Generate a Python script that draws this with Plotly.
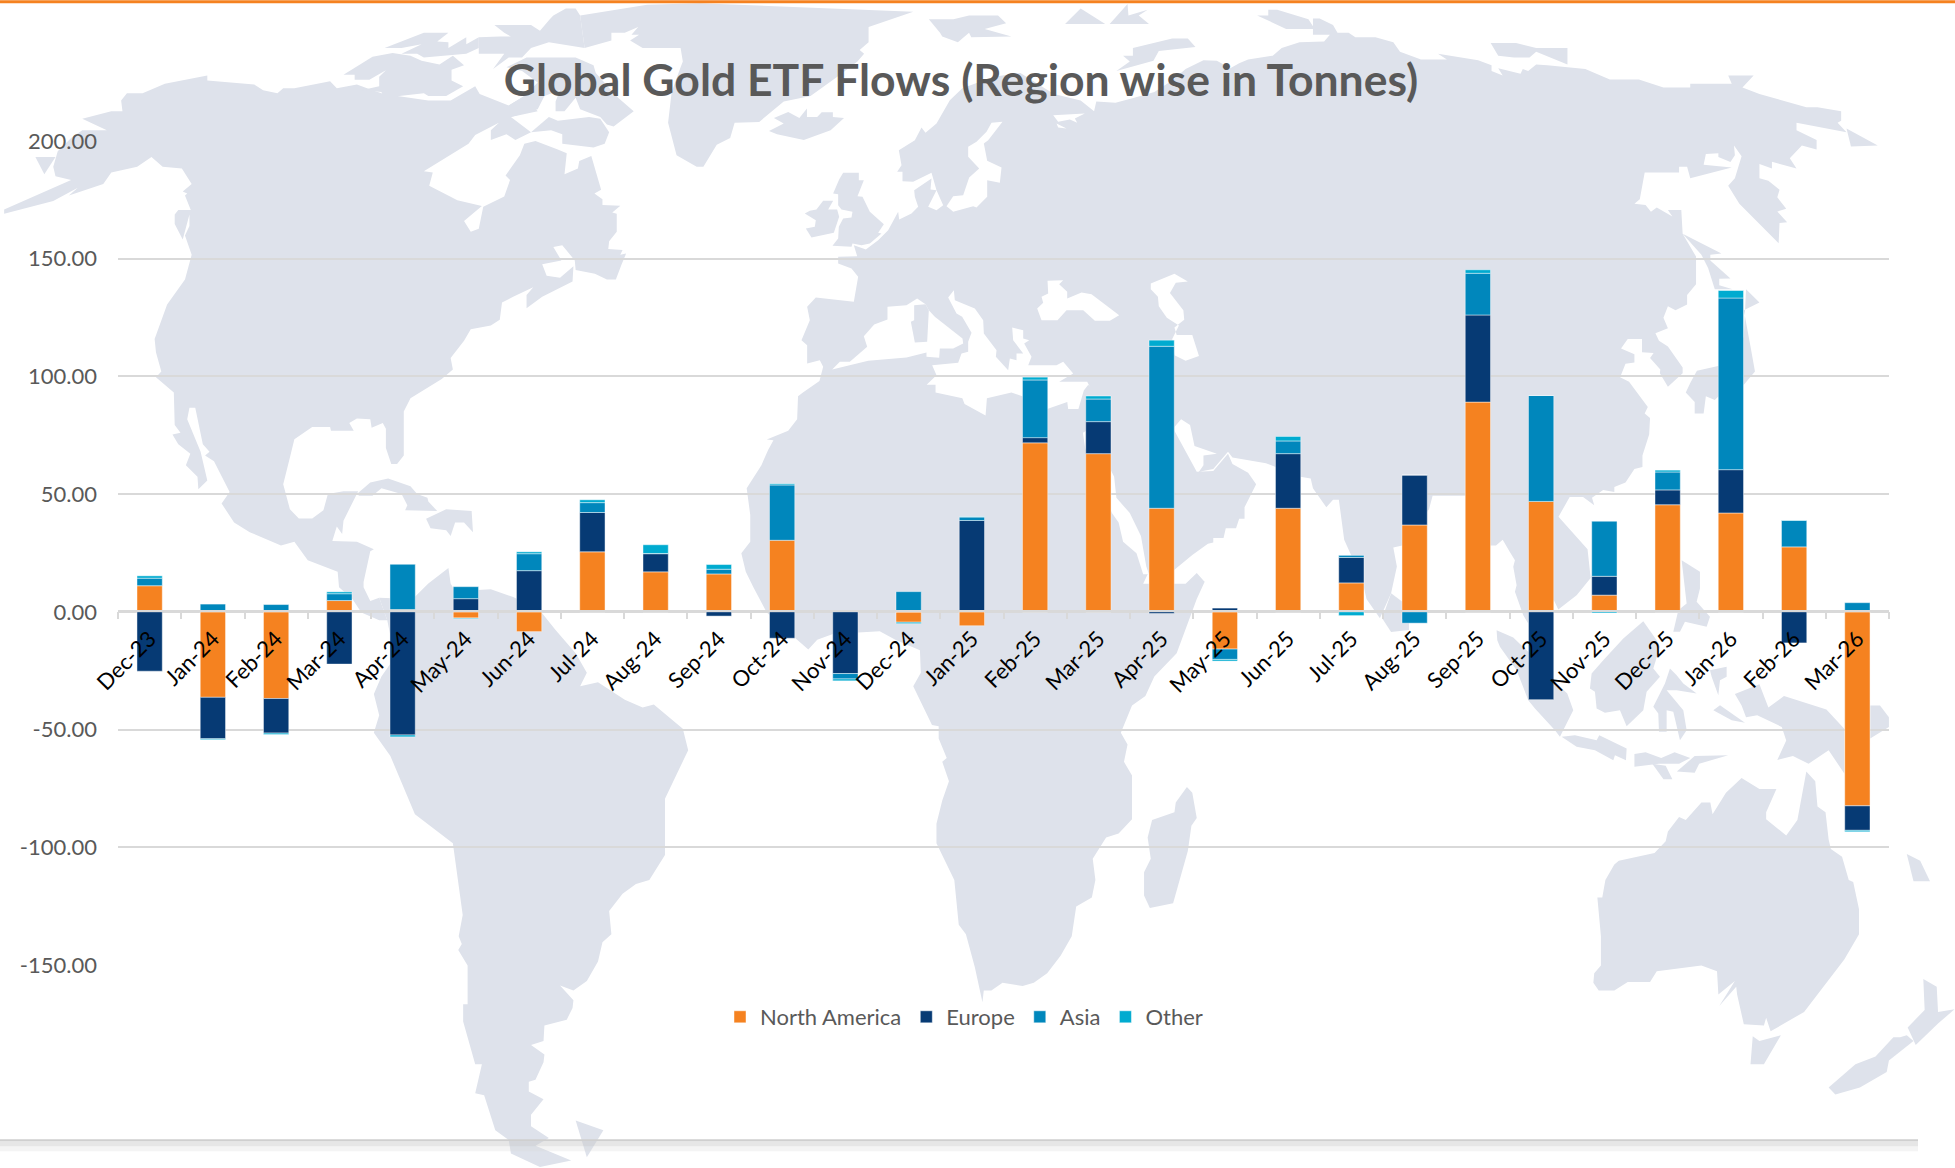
import plotly.graph_objects as go

# ---------- chart data ----------
months = ["Dec-23","Jan-24","Feb-24","Mar-24","Apr-24","May-24","Jun-24","Jul-24","Aug-24","Sep-24",
          "Oct-24","Nov-24","Dec-24","Jan-25","Feb-25","Mar-25","Apr-25","May-25","Jun-25","Jul-25",
          "Aug-25","Sep-25","Oct-25","Nov-25","Dec-25","Jan-26","Feb-26","Mar-26"]
north_america = [11.1,-36.3,-36.8,4.8,1.0,-2.6,-8.4,25.5,17.0,16.1,30.4,0.6,-4.4,-5.9,71.8,67.2,44.0,-15.8,44.0,12.3,36.9,89.1,46.9,7.1,45.5,42.0,27.6,-82.4]
europe = [-25.2,-17.6,-14.7,-22.2,-52.3,5.6,17.5,16.7,7.7,-1.8,-11.2,-26.2,0.0,38.8,2.2,13.6,-0.7,1.6,23.2,10.8,21.2,37.0,-37.3,8.0,6.3,18.4,-13.2,-10.4]
asia = [3.2,3.3,3.1,2.9,19.2,5.1,7.2,4.2,0.1,2.0,23.5,-2.3,8.6,1.5,24.5,9.6,68.8,-4.4,5.4,0.9,-4.8,17.7,45.0,23.4,7.6,72.9,11.2,3.9]
other = [1.0,-0.4,-0.6,0.8,-0.8,-0.3,0.8,1.2,3.7,2.0,0.5,-0.8,-0.6,0.1,1.2,1.3,2.6,-0.7,1.9,-1.6,0.0,1.5,0.0,-0.5,0.8,3.2,0.2,-0.6]
y_ticks = [200,150,100,50,0,-50,-100,-150]
y_labels = ["200.00","150.00","100.00","50.00","0.00","-50.00","-100.00","-150.00"]

# ---------- page geometry ----------
W, H = 1955, 1168
L, R, T, B = 118.3, 1889.0, 140.8, 964.8
MAP = "#DEE2EB"

CROPS = {
    "a": (0, 0, 2.24, 2.613), "b": (0, 560, 2.24, 2.579),
    "c": (650, 0, 2.24, 2.613), "d": (1255, 0, 2.24, 2.613),
    "e": (650, 560, 2.24, 2.579), "f": (1255, 560, 2.24, 2.579),
    "g": (780, 90, 3, 3), "h": (1480, 560, 3, 3),
}

def to_path(*segments):
    out = []
    for crop, pts in segments:
        ox, oy, sx, sy = CROPS[crop]
        for x, y in pts:
            px, py = ox + x / sx, oy + y / sy
            out.append(((px - L) / (R - L), 1 - (py - T) / (B - T)))
    return "M" + "L".join(f"{x:.5f},{y:.5f}" for x, y in out) + "Z"

# ---------- decorative world map outline ----------
land = [
 # North America
 [("a",[(10,547),(160,470),(125,460),(120,435),(130,395),(160,360),(185,340),(240,340),(185,310),(250,290),(275,290),(272,262),(285,243),(320,243),(370,218),(465,197),(465,210),(570,220),(590,235),(622,243),(635,230),(660,230),(740,212),(755,230),(800,220),(835,235),(860,245),(960,262),(1010,262),(1065,225),(1075,245),(1140,275),(1175,250),(1205,290),(1145,305),(1190,345),(1155,365),(1135,350),(1100,365),(1100,340),(1118,320),(1065,352),(1050,375),(950,447),(970,450),(962,485),(1025,523),(1080,538),(1040,577),(1055,605),(1073,597),(1083,540),(1130,513),(1143,470),(1133,458),(1165,405),(1175,375),(1200,368),(1250,390),(1270,400),(1265,455),(1295,440),(1298,420),(1325,407),(1347,495),(1332,505),(1350,520),(1350,535),(1390,537),(1372,555),(1382,558),(1382,605),(1365,630),(1363,650),(1395,653),(1390,665),(1403,662),(1393,690),(1380,730),(1360,730),(1333,715),(1290,705),(1288,680),(1260,640),(1240,645),(1258,680),(1215,690),(1225,720),(1255,725),(1285,695),(1283,735),(1215,775),(1180,805),(1180,770),(1195,750),(1150,775),(1125,790),(1120,835),(1100,850),(1055,860),(1040,890),(1010,935),(1015,965),(990,990),(920,1040),(905,1075),(905,1190),(890,1212),(877,1212),(865,1170),(865,1120),(858,1105),(833,1117),(830,1095),(800,1093),(783,1105),(793,1125),(742,1125),(740,1115),(700,1115),(660,1147),(650,1195),(635,1265),(650,1330),(670,1354),(700,1354),(725,1333),(735,1290),(770,1283),(803,1283),(770,1360),(767,1395),(755,1375),(745,1413),(800,1415),(838,1435),(830,1440),(815,1520)]),
  ("b",[(815,70),(830,105),(850,97),(868,155),(850,155),(810,135),(790,100),(760,70),(757,30),(690,0)]),
  ("a",[(660,1415),(630,1425),(560,1390),(525,1365),(497,1315),(515,1285),(480,1205),(460,1190),(470,1180),(455,1160),(438,1065),(425,1065),(420,1095),(450,1180),(465,1255),(445,1278),(443,1245),(417,1215),(427,1185),(400,1160),(387,1135),(405,1130),(392,1110),(390,1025),(350,985),(362,970),(350,920),(347,885),(375,795),(415,730),(430,665),(415,615),(425,590),(425,560),(410,625),(392,585),(392,560),(400,548),(428,548),(415,510),(420,505),(410,500),(430,480),(408,440),(365,435),(340,410),(308,435),(250,450),(232,480),(155,510),(175,490),(120,525),(10,558)])],
 [("a",[(80,410),(125,410),(100,455)])],
 [("a",[(770,195),(835,148),(880,138),(920,145),(945,158),(985,168),(1015,145),(1040,170),(1012,182),(1012,210),(1038,225),(1000,250),(960,250),(950,243),(860,255),(855,240),(810,235),(850,225),(850,200),(865,183),(828,208),(795,208),(795,195)])],
 [("a",[(862,125),(950,85),(1005,85),(980,108),(1005,110),(1005,125),(1045,97),(1045,115),(1073,97),(1073,125),(1045,140),(950,150),(935,140),(900,140),(945,115),(900,125)])],
 [("a",[(1108,65),(1190,65),(1210,80),(1232,50),(1240,40),(1268,22),(1290,22),(1300,40),(1310,125),(1230,110),(1190,125),(1170,150),(1140,150),(1105,180),(1130,140),(1073,140),(1073,97),(1120,95),(1145,95),(1130,85)])],
 [("a",[(1180,150),(1290,150),(1330,170),(1335,190),(1385,255),(1420,290),(1375,330),(1360,325),(1345,305),(1300,285),(1290,255),(1265,290),(1245,290),(1245,265),(1255,235),(1220,250),(1205,285),(1145,305),(1140,275),(1175,250),(1205,215),(1170,185),(1135,175)])],
 [("a",[(1190,345),(1230,305),(1250,315),(1320,305),(1345,310),(1365,345),(1355,375),(1330,385),(1260,375),(1260,350),(1235,340)])],
 # Greenland
 [("a",[(1300,40),(1450,12),(1568,8)]),
  ("c",[(590,30),(490,70),(490,110),(470,130),(480,140),(465,160),(420,200),(360,250),(300,265),(245,318),(190,320),(180,360),(150,378),(120,435),(105,435),(60,405)]),
  ("a",[(1497,320),(1505,240),(1525,175),(1530,160),(1525,125),(1440,125),(1412,105),(1432,90),(1415,90),(1430,70),(1400,85),(1370,85),(1370,105),(1310,125)])],
 # Caribbean
 [("a",[(800,1290),(830,1260),(870,1250),(920,1270),(935,1290),(958,1300),(960,1310),(980,1335),(908,1333),(913,1320),(900,1290),(855,1275),(835,1295),(805,1295)])],
 [("a",[(955,1355),(1000,1330),(1057,1335),(1060,1390),(1040,1365),(1020,1365),(1010,1400),(1000,1385),(965,1380)])],
 # South America
 [("b",[(850,97),(925,100),(960,60),(1005,20),(1010,60),(1020,80),(1100,75),(1150,95),(1210,130),(1245,180),(1290,240),(1315,290),(1300,325),(1340,315),(1400,360),(1440,380),(1465,372),(1530,435),(1542,490),(1490,615),(1490,760),(1455,825),(1425,835),(1395,860),(1365,905),(1370,965),(1350,985),(1340,1035),(1315,1085),(1285,1110),(1255,1097),(1285,1135),(1283,1155),(1270,1185),(1220,1200),(1218,1240),(1190,1250),(1220,1275),(1218,1295),(1200,1340),(1185,1345),(1185,1370),(1218,1390),(1190,1430),(1190,1460),(1230,1490),(1200,1510),(1280,1548),(1210,1565),(1145,1530),(1140,1495),(1110,1470),(1085,1380),(1065,1375),(1080,1300),(1065,1300),(1038,1190),(1038,1145),(1048,1145),(1048,1045),(1027,1005),(1035,990),(1028,970),(1037,915),(1015,730),(930,655),(875,505),(838,445),(850,400),(838,345),(855,300),(885,250),(868,155)])],
 [("b",[(1290,1445),(1352,1470),(1315,1540)])],
 # Afro-Eurasia outer coast
 [("g",[(130,830),(120,810),(82,820),(82,765),(65,750),(90,690),(82,650),(108,622),(222,635),(235,560),(215,535),(175,520),(175,500),(232,498),(222,465),(250,475),(258,478),(295,450),(325,420),(355,365),(358,388),(395,370),(415,350),(405,320),(403,300),(455,265),(452,298),(470,300),(445,350),(470,360),(490,345),(470,300),(455,248),(400,275),(368,273),(368,245),(352,245),(365,225),(357,180),(405,150),(425,112),(437,128),(470,100),(510,30)]),
  ("c",[(700,230),(770,200),(830,190),(905,245),(965,262),(995,290),(1000,265),(1043,268),(1085,255),(1130,240),(1170,210),(1200,180),(1240,157),(1270,158),(1300,178),(1320,165),(1340,155)]),
  ("d",[(40,145),(60,125),(100,110),(155,108),(168,90),(130,90),(130,75),(70,75),(5,40),(30,40),(30,25),(50,25),(120,50),(130,68),(130,48),(145,48),(175,65),(185,85),(210,85),(225,97),(270,97),(310,110),(325,135),(372,155),(430,155),(410,140),(500,157),(530,170),(530,185),(555,197),(545,178),(595,192),(600,180),(612,185),(630,168),(655,170),(740,180),(795,207),(860,207),(915,228),(975,228),(975,218),(1068,218),(1060,197),(1117,197),(1092,228),(1130,245),(1235,280),(1260,280),(1313,290),(1313,315),(1305,320),(1325,345),(1213,320),(1213,340),(1258,365),(1258,390),(1225,380),(1198,413),(1213,440),(1158,422),(1158,440),(1130,428),(1130,465),(1150,472),(1175,495),(1170,515),(1190,545),(1170,552),(1192,580),(1175,582),(1173,635),(1085,532),(1060,485),(1075,465),(1090,408),(1073,380),(1075,405),(1065,423),(1038,410),(1038,400),(1010,402),(1005,430),(1068,437),(975,465),(968,435),(950,435),(950,450),(873,450),(862,520),(850,532),(875,535),(887,553),(900,542),(935,565),(925,548),(955,548),(958,610),(988,670),(988,742),(968,770),(968,795),(942,810),(925,800),(915,830),(925,857),(897,870),(905,890),(925,905),(958,960),(958,975),(925,1010),(907,975),(908,965),(885,935),(893,922),(867,920),(867,885),(835,885),(820,910),(850,925),(850,947),(830,950),(818,985),(838,997),(880,1063),(873,1080),(885,1092),(883,1135),(868,1190),(868,1220),(850,1225),(830,1260),(805,1272),(805,1285),(780,1280),(755,1300),(760,1320),(735,1298),(705,1298),(680,1350),(745,1435),(752,1510)]),
  ("h",[(290,105),(235,148),(222,120),(145,120),(145,190),(130,165),(105,95),(110,75),(100,20),(105,0)]),
  ("d",[(570,1440),(555,1410),(540,1425),(525,1425),(527,1295),(465,1295),(398,1295),(390,1330),(330,1425),(310,1430),(318,1480)]),
  ("f",[(305,85),(280,150),(250,100),(240,50)]),
  ("d",[(200,1410),(188,1305),(175,1305),(160,1325),(130,1275),(125,1250)]),
  ("c",[(1457,1245),(1380,1210),(1305,1195),(1295,1180),(1262,1225),(1230,1232),(1240,1215),(1240,1190),(1270,1185),(1220,1165),(1210,1110),(1190,1095),(1175,1115),(1175,1125),(1225,1232),(1262,1230),(1295,1185),(1305,1212),(1340,1235),(1358,1265),(1332,1325),(1332,1355),(1320,1355),(1313,1380),(1290,1380),(1285,1405),(1262,1405),(1262,1417),(1250,1420),(1215,1450),(1175,1488),(1115,1500),(1105,1525),(1175,1525),(1200,1525),(1225,1497),(1243,1520)]),
  ("e",[(1243,55),(1225,100),(1180,240),(1130,300),(1110,350),(1080,375),(1055,445),(1070,475),(1062,520),(1080,555),(1080,668),(1050,705),(1022,715),(992,770),(998,825),(990,870),(955,893),(945,970),(920,1020),(890,1065),(860,1090),(835,1098),(790,1090),(765,1110),(748,1110),(745,1140),(728,1050),(708,965),(692,940),(682,825),(642,730),(642,680),(655,620),(670,570),(655,520),(665,510),(647,460),(647,428),(632,425),(590,325),(607,290),(605,232),(550,205),(515,183),(410,190),(375,205),(355,230),(330,205),(262,135),(232,70),(215,30)]),
  ("c",[(205,1445),(225,1415),(225,1345),(217,1275),(250,1215),(265,1175),(277,1150),(262,1148),(310,1125),(330,1095),(332,1035),(343,1025),(380,995)])],
 [("f",[(305,85),(345,120),(345,180),(305,185),(285,150)])],
 # Atlantic and Arctic islands
 [("g",[(160,310),(178,268),(190,248),(237,248),(237,270),(252,270),(233,318),(248,320),(270,365),(312,402),(295,428),(305,430),(270,460),(245,465),(218,460),(215,470),(158,467),(175,445),(177,410),(190,385),(215,382),(218,365),(185,358),(175,345),(175,312)])],
 [("g",[(75,370),(90,362),(110,358),(130,332),(160,332),(145,358),(172,358),(178,380),(162,428),(95,442),(78,415),(105,410),(108,390)])],
 [("c",[(267,342),(300,322),(278,308),(310,292),(335,308),(352,283),(352,305),(375,305),(385,293),(410,293),(410,305),(435,308),(405,340),(345,365),(285,350)])],
 [("c",[(625,50),(680,50),(715,40),(780,40),(798,60),(750,75),(810,95),(720,97),(715,85),(690,110),(655,95),(650,85)])],
 [("c",[(930,62),(965,22),(1020,62)])],
 [("c",[(1030,62),(1070,10),(1072,40),(1115,25),(1095,40),(1118,62)])],
 [("c",[(1045,185),(1075,160),(1060,145),(1082,145),(1082,125),(1170,100),(1205,100),(1222,122),(1140,133),(1128,158)])],
 [("d",[(528,112),(585,112),(630,125),(700,125),(700,168),(630,135),(615,150),(580,150),(545,145)])],
 [("d",[(1325,335),(1395,380),(1335,382)])],
 [("d",[(958,610),(1045,662),(1020,665),(1020,680),(1065,727),(1040,728),(1040,745),(1070,755),(1030,755),(1015,700),(1000,665)])],
 # Japan
 [("d",[(1100,755),(1130,790),(1095,810),(1110,905),(1120,970),(1095,1005),(1060,1010),(1030,1045),(1010,1035),(1005,1080),(985,1080),(985,1050),(965,1025),(975,1000),(990,968),(1040,955),(1095,880)])],
 # Madagascar
 [("e",[(1203,585),(1215,600),(1225,665),(1213,685),(1205,750),(1172,885),(1120,897),(1107,865),(1107,805),(1122,770),(1115,715),(1125,670),(1175,650),(1178,625)])],
 # South-East Asia
 [("h",[(50,210),(100,232),(145,275),(220,360),(262,400),(280,450),(240,530),(225,510),(165,445),(145,420),(110,330),(60,260),(52,240)])],
 [("h",[(245,530),(285,525),(350,540),(358,525),(440,565),(438,600),(405,585),(400,600),(345,570),(290,560)])],
 [("h",[(330,385),(335,340),(370,300),(430,235),(490,183),(530,240),(540,260),(520,325),(540,350),(500,395),(490,450),(440,498),(420,450),(375,458),(350,445),(345,395)])],
 [("h",[(520,440),(555,370),(570,325),(590,345),(610,370),(650,400),(590,390),(560,390),(610,450),(620,510),(600,540),(580,455),(560,450),(560,515),(537,515),(535,460)])],
 [("h",[(605,0),(660,35),(660,85),(650,125),(690,170),(680,200),(615,185),(600,215),(580,215),(595,150),(620,130)])],
 [("h",[(690,330),(740,320),(740,350),(720,360),(715,405),(695,350)])],
 [("h",[(700,450),(720,435),(795,488),(755,480)])],
 [("f",[(1075,345),(1130,320),(1150,380),(1185,350),(1280,385),(1320,435),(1320,550),(1285,490),(1240,525),(1205,505),(1170,515),(1190,465),(1180,430),(1125,400),(1100,405),(1090,375)])],
 [("f",[(1378,375),(1400,375),(1420,405),(1420,430),(1378,460)])],
 [("f",[(850,500),(875,495),(910,510),(940,495),(975,510),(950,525),(905,525),(850,533)])],
 [("f",[(890,525),(920,530),(935,565),(915,565)])],
 [("f",[(945,545),(985,505),(1060,503),(995,525),(985,548)])],
 # Australasia
 [("f",[(1235,545),(1255,570),(1260,635),(1278,650),(1285,720),(1290,745),(1315,765),(1330,825),(1340,830),(1353,900),(1353,965),(1320,1030),(1230,1165),(1155,1215),(1145,1180),(1140,1200),(1095,1197),(1080,1120),(1078,1100),(1040,1150),(1075,1085),(1038,1120),(1035,1060),(1000,1045),(900,1060),(885,1088),(835,1088),(805,1110),(770,1110),(758,1090),(760,1065),(775,1045),(775,970),(767,870),(778,870),(785,825),(805,785),(815,775),(895,755),(920,725),(925,700),(950,662),(965,670),(1000,625),(1020,625),(1025,655),(1055,600),(1090,562),(1130,590),(1168,590),(1145,650),(1145,668),(1190,710),(1215,670)])],
 [("f",[(1115,1228),(1130,1240),(1178,1225),(1140,1300),(1110,1300)])],
 [("f",[(1285,1360),(1345,1300),(1390,1280),(1430,1230),(1445,1230),(1460,1225),(1475,1240),(1420,1290),(1415,1320),(1355,1360),(1300,1378)])],
 [("f",[(1462,1205),(1500,1160),(1497,1080),(1527,1100),(1530,1165),(1567,1158),(1530,1195),(1480,1250),(1470,1225)])],
 [("f",[(1460,758),(1490,775),(1512,828),(1475,828)])],
]

seas = [
 # west Mediterranean
 [("g",[(157,838),(180,815),(210,815),(262,770),(252,738),(283,703),(323,688),(323,650),(380,645),(412,625),(437,642),(447,660),(465,680),(548,745),(550,760),(520,775),(480,775),(478,803),(440,800),(440,787),(380,802),(265,812)])],
 # east Mediterranean, Adriatic, Aegean
 [("g",[(505,622),(522,600),(525,630),(585,655),(610,690),(612,730),(650,780),(648,800),(685,840),(690,805),(710,810),(710,790),(730,790),(700,750),(697,712),(730,720),(730,745),(748,750),(733,760),(755,800),(745,825),(830,825),(850,815),(880,850),(838,875),(922,875),(930,890)]),
  ("c",[(982,1005),(972,1020),(960,1068),(937,1068),(935,1050),(890,1068),(870,1050),(810,1025),(755,1040),(752,1085),(705,1055),(700,1040),(640,1025),(640,1005),(620,1005)]),
  ("g",[(470,855),(457,825),(535,818),(545,790),(565,785),(565,755),(575,728),(547,680),(530,670)])],
 # Baltic and White Sea inlets
 [("g",[(515,360),(500,348),(520,318),(550,315),(568,262),(598,235),(565,200),(565,170),(590,155),(620,125),(635,98),(668,95),(625,150),(612,160),(622,212),(665,232),(660,278),(622,270),(622,320),(590,352),(580,348),(520,365)])],
 [("g",[(820,75),(915,70),(885,85),(892,98),(870,88),(835,95)])],
 [("g",[(830,100),(860,115),(835,112)])],
 # Black Sea
 [("g",[(772,655),(790,638),(785,620),(805,610),(803,572),(850,570),(838,582),(862,605),(862,625),(905,607),(935,612),(1018,675),(990,692),(945,692),(910,660),(860,660),(833,690),(785,690)])],
 # Caspian
 [("c",[(1122,740),(1175,715),(1205,735),(1178,738),(1165,765),(1195,810),(1197,835),(1175,855),(1180,875),(1215,875),(1230,930),(1200,942),(1175,928),(1170,885),(1185,850),(1158,830),(1140,800),(1138,775),(1122,755)])],
 # Red Sea
 [("c",[(970,1130),(975,1170),(1035,1340),(1050,1365),(1060,1415),(1090,1445),(1105,1500),(1118,1500),(1112,1480),(1100,1400),(1075,1340),(1045,1300),(1040,1245),(985,1120)])],
]

corsica = [("g",[(403,645),(437,642),(447,660),(442,755),(405,757),(393,695),(403,690)])]

shapes = []
for poly in land:
    shapes.append(dict(type="path", xref="paper", yref="paper", layer="below",
                       path=to_path(*poly), fillcolor=MAP, line=dict(width=0)))
for poly in seas:
    shapes.append(dict(type="path", xref="paper", yref="paper", layer="below",
                       path=to_path(*poly), fillcolor="white", line=dict(width=0)))
shapes.append(dict(type="path", xref="paper", yref="paper", layer="below",
                   path=to_path(*corsica), fillcolor=MAP, line=dict(width=0)))

def band(x0, x1, y0, y1, colour):
    return dict(type="rect", xref="paper", yref="paper", layer="above",
                x0=(x0 - L) / (R - L), x1=(x1 - L) / (R - L),
                y0=1 - (y0 - T) / (B - T), y1=1 - (y1 - T) / (B - T),
                fillcolor=colour, line=dict(width=0))

shapes.append(band(0, W, 0, 3, "#F58220"))
shapes.append(band(0, 1918, 1141, 1146, "rgba(200,200,200,0.45)"))
shapes.append(band(0, 1918, 1146, 1151, "rgba(215,215,215,0.28)"))
shapes.append(band(0, 1918, 1139, 1141, "#CFCFCF"))

# ---------- figure ----------
series = [("North America", north_america, "#F58220"),
          ("Europe", europe, "#063A74"),
          ("Asia", asia, "#0087BC"),
          ("Other", other, "#00ABD0")]

fig = go.Figure()
for name, values, colour in series:
    fig.add_trace(go.Bar(x=months, y=values, name=name, width=0.4,
                         marker=dict(color=colour, line=dict(color="rgba(255,255,255,0.45)", width=1))))

fig.update_layout(
    width=W, height=H, barmode="relative",
    margin=dict(l=L, r=W - R, t=T, b=H - B, pad=0, autoexpand=False),
    paper_bgcolor="white", plot_bgcolor="rgba(0,0,0,0)",
    shapes=shapes,
    title=dict(text="<b>Global Gold ETF Flows (Region wise in Tonnes)</b>",
               x=961 / W, xanchor="center", y=1 - 80 / H, yanchor="middle",
               font=dict(family="Lato", size=44.5, color="#595959")),
    font=dict(family="Lato", color="#595959"),
    legend=dict(orientation="h", x=964 / W, xref="container", xanchor="center",
                y=1 - 1017 / H, yref="container", yanchor="middle",
                bgcolor="rgba(0,0,0,0)", font=dict(family="Lato", size=22, color="#595959"),
                itemwidth=30, traceorder="normal"),
    xaxis=dict(type="category", categoryorder="array", categoryarray=months,
               anchor="free", position=(B - 611.2) / (B - T),
               tickson="boundaries", ticks="outside", ticklen=7, tickwidth=1.5, tickcolor="#D9D9D9",
               showline=True, linecolor="#D9D9D9", linewidth=2, showgrid=False, zeroline=False,
               tickangle=-45, tickfont=dict(family="Lato", size=22, color="#000000"),
               ticklabelstandoff=5),
    yaxis=dict(range=[-150, 200], tickmode="array", tickvals=y_ticks, ticktext=y_labels,
               showgrid=True, gridcolor="#D9D9D9", gridwidth=2, zeroline=False,
               showline=False, ticks="", ticklabelstandoff=20,
               tickfont=dict(family="Lato", size=22, color="#595959")),
)

fig.write_html("out.html", config=dict(displayModeBar=False),
               post_script="document.body.style.margin='0';window.dispatchEvent(new Event('resize'));")
